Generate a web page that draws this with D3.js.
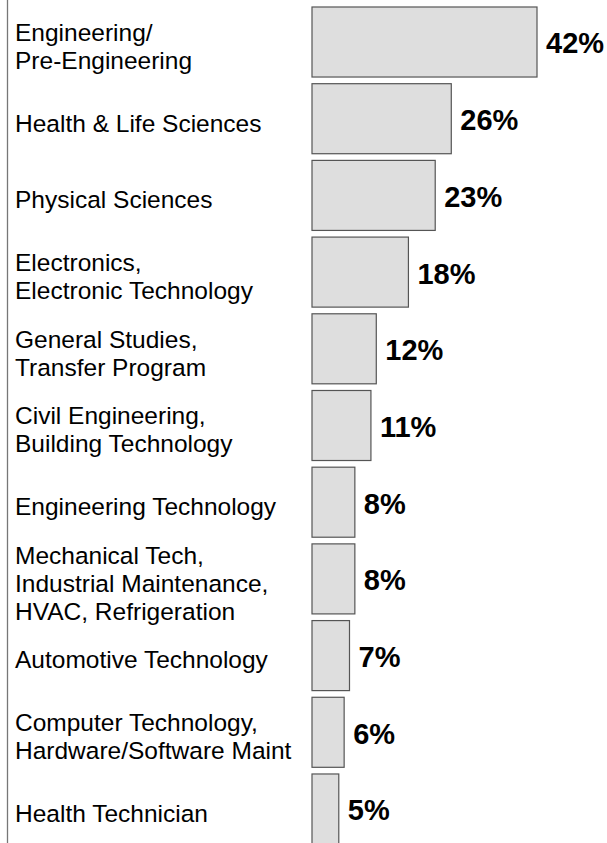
<!DOCTYPE html>
<html>
  <head>
    <script src="https://d3js.org/d3.v7.min.js"></script>
    <style>
      body { margin: 0; background: #fff; }
      text { font-family: Arial, "Liberation Sans", sans-serif; fill: #000; }
    </style>
  </head>
  <body>
    <div id="chart"></div>
    <script>
      // Program categories (label lines) and share of students
      const categories = [
        ["Engineering/", "Pre-Engineering"],
        ["Health & Life Sciences"],
        ["Physical Sciences"],
        ["Electronics,", "Electronic Technology"],
        ["General Studies,", "Transfer Program"],
        ["Civil Engineering,", "Building Technology"],
        ["Engineering Technology"],
        ["Mechanical Tech,", "Industrial Maintenance,", "HVAC, Refrigeration"],
        ["Automotive Technology"],
        ["Computer Technology,", "Hardware/Software Maint"],
        ["Health Technician"],
      ];
      const values = [42, 26, 23, 18, 12, 11, 8, 8, 7, 6, 5];
      const valueLabels = ["42%", "26%", "23%", "18%", "12%", "11%", "8%", "8%", "7%", "6%", "5%"];

      const width = 607, height = 843;

      const svg = d3
        .select("#chart")
        .append("svg")
        .attr("width", width)
        .attr("height", height);

      const ids = d3.range(values.length);

      // x: 0% sits at the bar baseline
      const x = d3.scaleLinear().domain([0, 42]).range([312, 537]);

      const y = d3
        .scaleBand()
        .domain(ids)
        .range([7, 844])
        .paddingInner(0.087)
        .paddingOuter(0);

      // left frame line
      svg
        .append("line")
        .attr("x1", 7.5)
        .attr("x2", 7.5)
        .attr("y1", 0)
        .attr("y2", height)
        .attr("stroke", "#777")
        .attr("stroke-width", 1.3);

      // bars
      svg
        .append("g")
        .selectAll("rect")
        .data(ids)
        .join("rect")
        .attr("x", x(0))
        .attr("y", (i) => y(i))
        .attr("width", (i) => x(values[i]) - x(0))
        .attr("height", y.bandwidth())
        .attr("fill", "#dedede")
        .attr("stroke", "#555")
        .attr("stroke-width", 1.2);

      // percentage labels
      svg
        .append("g")
        .selectAll("text")
        .data(ids)
        .join("text")
        .attr("x", (i) => x(values[i]) + 9)
        .attr("y", (i) => y(i) + y.bandwidth() / 2 + 1)
        .attr("dy", "0.36em")
        .style("font-size", "29px")
        .style("font-weight", "bold")
        .text((i) => valueLabels[i]);

      // category labels
      const lineH = 28;
      const labels = svg
        .append("g")
        .selectAll("text")
        .data(ids)
        .join("text")
        .attr("x", 15)
        .attr("y", (i) => y(i) + y.bandwidth() / 2 + 4 - ((categories[i].length - 1) * lineH) / 2)
        .style("font-size", "24.5px");

      labels
        .selectAll("tspan")
        .data((i) => categories[i])
        .join("tspan")
        .attr("x", 15)
        .attr("dy", (d, j) => (j === 0 ? "0.36em" : lineH))
        .text((d) => d);
    </script>
  </body>
</html>
